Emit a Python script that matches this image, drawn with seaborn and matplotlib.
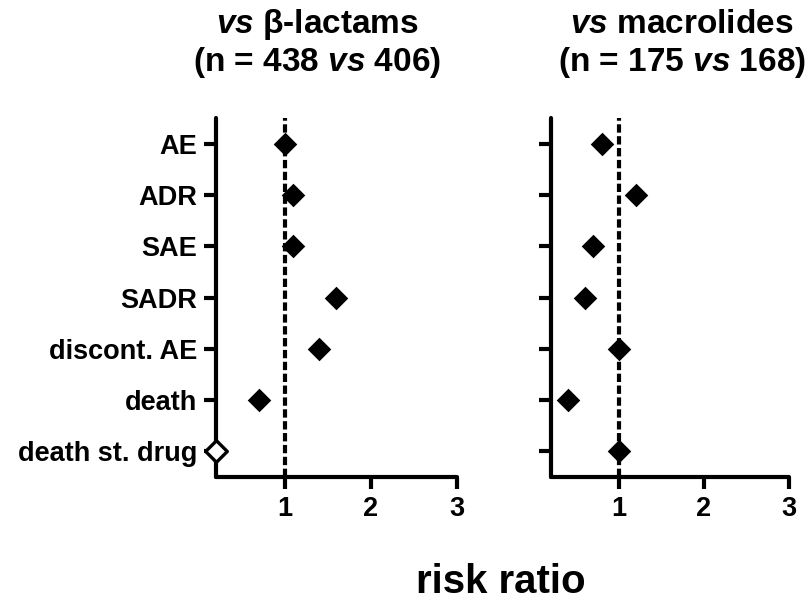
import pandas as pd
import seaborn as sns
import matplotlib
matplotlib.use('Agg')
import matplotlib.pyplot as plt

# risk ratios
outcomes = ['AE', 'ADR', 'SAE', 'SADR', 'discont. AE', 'death', 'death st. drug']
rr_lactams = [1.0, 1.1, 1.1, 1.6, 1.4, 0.7, 0.2]
rr_macrolides = [0.8, 1.2, 0.7, 0.6, 1.0, 0.4, 1.0]
open_lactams = [False, False, False, False, False, False, True]
open_macrolides = [False] * 7

titles_l1 = [r'$\mathit{vs}$ β-lactams', r'$\mathit{vs}$ macrolides']
titles_l2 = [r'(n = 438 $\mathit{vs}$ 406)', r'(n = 175 $\mathit{vs}$ 168)']
xticks = [1, 2, 3]

sns.set_style('ticks')
plt.rcParams['font.family'] = ['Liberation Sans', 'DejaVu Sans']
plt.rcParams['font.weight'] = 'bold'
plt.rcParams['mathtext.fontset'] = 'custom'
plt.rcParams['mathtext.rm'] = 'Liberation Sans:bold'
plt.rcParams['mathtext.it'] = 'Liberation Sans:italic:bold'
for k in ['text.color', 'axes.edgecolor', 'xtick.color', 'ytick.color', 'axes.labelcolor']:
    plt.rcParams[k] = 'black'

df = pd.concat([
    pd.DataFrame({'outcome': outcomes, 'rr': rr_lactams, 'open': open_lactams, 'panel': 0}),
    pd.DataFrame({'outcome': outcomes, 'rr': rr_macrolides, 'open': open_macrolides, 'panel': 1}),
])

fig = plt.figure(figsize=(8.11, 6.0), dpi=100)
axes = [fig.add_axes([0.2663, 0.205, 0.2972, 0.5983]),
        fig.add_axes([0.679, 0.205, 0.2942, 0.5983])]
title_x = [317 / 811, 682 / 811]

for i, ax in enumerate(axes):
    d = df[df.panel == i]
    sns.stripplot(data=d[~d.open], x='rr', y='outcome', order=outcomes, orient='h',
                  jitter=False, marker='D', size=12, color='black', linewidth=0,
                  clip_on=False, zorder=5, ax=ax)
    if d.open.any():
        sns.stripplot(data=d[d.open], x='rr', y='outcome', order=outcomes, orient='h',
                      jitter=False, marker='D', size=11, color='white', edgecolor='black',
                      linewidth=2.4, clip_on=False, zorder=6, ax=ax)
    ax.axvline(1, color='black', lw=3.0, ls=(0, (2.0, 0.85)), zorder=2)
    ax.set_xlim(0.2, 3)
    ax.set_ylim(6.5, -0.5)
    ax.set_xticks(xticks)
    ax.set_xticklabels([str(t) for t in xticks])
    ax.set_xlabel('')
    ax.set_ylabel('')
    sns.despine(ax=ax)
    for s in ['left', 'bottom']:
        ax.spines[s].set_linewidth(3)
        ax.spines[s].set_capstyle('round')
    ax.tick_params(axis='both', length=8.5, width=3, labelsize=19.5, pad=5)
    for lab in ax.get_xticklabels() + ax.get_yticklabels():
        lab.set_fontweight('bold')
    if i == 1:
        ax.set_yticklabels([])
    fig.text(title_x[i], 1 - 33 / 600, titles_l1[i], ha='center', va='baseline',
             fontsize=24, fontweight='bold')
    fig.text(title_x[i], 1 - 71 / 600, titles_l2[i], ha='center', va='baseline',
             fontsize=24, fontweight='bold')

fig.text(501 / 811, 0.012, 'risk ratio', ha='center', va='baseline',
         fontsize=29, fontweight='bold')

fig.savefig('out.png', dpi=100)
